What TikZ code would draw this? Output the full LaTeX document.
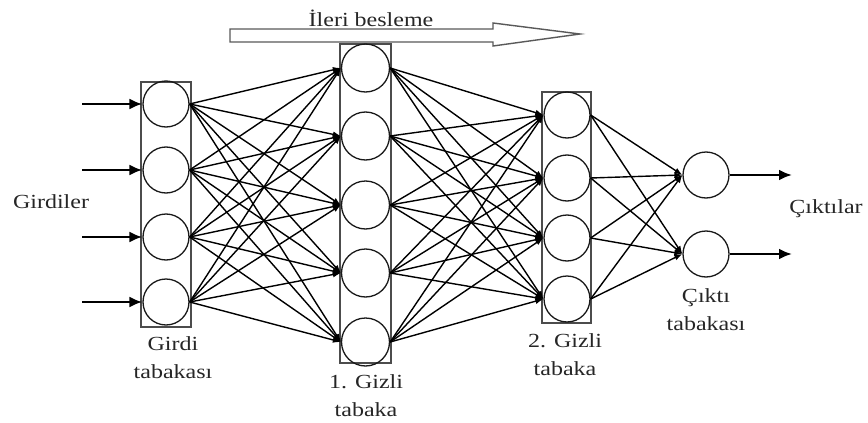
\documentclass[tikz,border=0pt]{standalone}
\usepackage{fontspec}
\setmainfont{Liberation Serif}[FakeStretch=1.2]
\usetikzlibrary{arrows.meta}
\begin{document}
\begin{tikzpicture}[x=1pt,y=-1pt,
  neuron/.style={circle,draw=black!90,line width=1.3pt,inner sep=0pt,minimum size=#1},
  neuron/.default=46pt,
  layerbox/.style={draw=black!70,line width=1.3pt},
  conn/.style={draw=black,line width=1.4pt,-{Latex[length=8pt,width=6pt]}},
  io/.style={draw=black,line width=2.4pt,-{Latex[length=13pt,width=11pt]}},
  lbl/.style={inner sep=0pt,text=black!85,font=\fontsize{20}{28}\selectfont,align=center}]
\useasboundingbox (0,0) rectangle (868,423);
% layer boxes
\draw[layerbox] (141,82) rectangle (191,327);
\draw[layerbox] (340,44) rectangle (391,363);
\draw[layerbox] (542,92) rectangle (591,323);
% neurons
\foreach \i/\y in {1/104,2/170,3/237,4/302} \node[neuron] (I\i) at (166,\y) {};
\foreach \i/\y in {1/68,2/136,3/205,4/273,5/342} \node[neuron=48pt] (A\i) at (365.5,\y) {};
\foreach \i/\y in {1/115,2/178,3/238,4/299} \node[neuron] (B\i) at (567,\y) {};
\foreach \i/\y in {1/175,2/254} \node[neuron] (O\i) at (706,\y) {};
% connections
\foreach \i in {1,...,4} \foreach \j in {1,...,5} \draw[conn] (I\i.east) -- (A\j.west);
\foreach \i in {1,...,5} \foreach \j in {1,...,4} \draw[conn] (A\i.east) -- (B\j.west);
\foreach \i in {1,...,4} \foreach \j in {1,2} \draw[conn] (B\i.east) -- (O\j.west);
% input arrows
\foreach \i/\y in {1/104,2/170,3/237,4/302} {
  \coordinate (s\i) at (82,\y);
  \draw[io] (s\i) -- (I\i.west);
}
% output arrows
\coordinate (e1) at (792,175);
\coordinate (e2) at (792,254);
\draw[io] (O1.east) -- (e1);
\draw[io] (O2.east) -- (e2);
% feed-forward arrow
\draw[draw=black!65,line width=1.4pt,fill=white,line join=miter]
  (230,29) -- (493,29) -- (493,23) -- (580,34) -- (493,46) -- (493,42) -- (230,42) -- cycle;
% labels
\node[lbl,anchor=base] (ff) at (371,26) {İleri besleme};
\node[lbl,anchor=base] (gin) at (51,208) {Girdiler};
\node[lbl,anchor=base] (gout) at (826,213) {Çıktılar};
\node[lbl,anchor=north] (l1) at (173,336) {Girdi\\tabakası};
\node[lbl,anchor=north] (l2) at (366,374) {1. Gizli\\tabaka};
\node[lbl,anchor=north] (l3) at (565,333) {2. Gizli\\tabaka};
\node[lbl,anchor=north] (l4) at (706,288) {Çıktı\\tabakası};
\end{tikzpicture}
\end{document}
